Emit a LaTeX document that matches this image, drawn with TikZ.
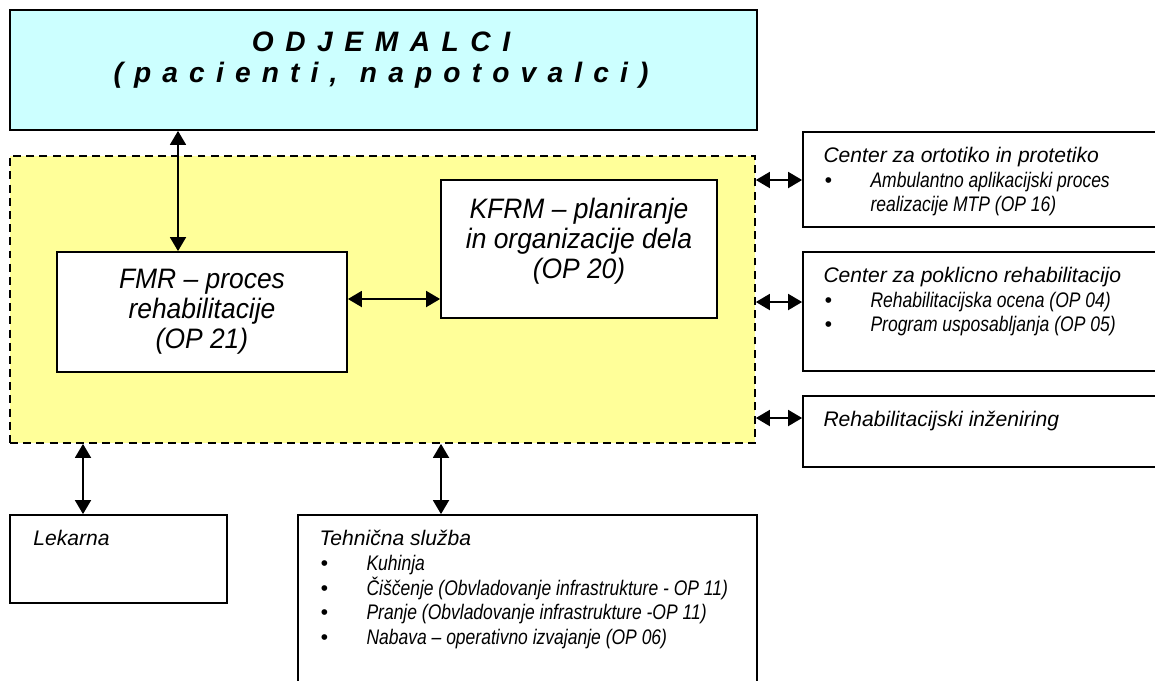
\documentclass[tikz,border=0pt]{standalone}
\usepackage{fontspec}
\setmainfont{Liberation Sans}
\newfontfamily\narrowfont[FakeStretch=0.83]{Liberation Sans}
\newfontfamily\midfont[FakeStretch=0.94]{Liberation Sans}
\usetikzlibrary{arrows.meta,calc}
\definecolor{odjcyan}{HTML}{CCFFFF}
\definecolor{zoneyellow}{HTML}{FFFF99}
\newdimen\pix \pix=0.02cm
% bullet item and its continuation line
\newcommand{\itm}[1]{\makebox[47\pix][l]{\hspace*{1\pix}\textbullet}{\narrowfont\itshape #1}}
\newcommand{\itmcont}[1]{\hspace*{47\pix}{\narrowfont\itshape #1}}

\begin{document}
\begin{tikzpicture}
  [x=0.02cm,y=-0.02cm,
   box/.style={draw=black,line width=1pt,fill=white,inner sep=0pt},
   txt/.style={anchor=north west,inner sep=0pt,align=left,font=\fontsize{12}{14}\selectfont\itshape},
   big/.style={align=center,inner sep=0pt,font=\midfont\itshape\fontsize{16}{17.1}\selectfont},
   arr/.style={{Triangle[length=8pt,width=9pt]}-{Triangle[length=8pt,width=9pt]},line width=1.4pt}]
  \clip (0,0) rectangle (1155,680);
  % customers on top, the yellow zone below
  \node (odj)[box,fill=odjcyan,minimum width=14.94cm,minimum height=2.4cm] at (383.5,70) {};
  \node (odjT)[align=center,inner sep=0pt,font=\bfseries\itshape\fontsize{16}{17.5}\selectfont] at (381,60)
    {{\addfontfeature{LetterSpace=13.5}O D J E M A L C I}\\{\addfontfeature{LetterSpace=12}( p a c i e n t i ,\ \ n a p o t o v a l c i )}};
  \node (zone)[box,fill=zoneyellow,dash pattern=on 4.5pt off 3pt,minimum width=14.9cm,minimum height=5.74cm] at (382.5,299.5) {};
  \node (fmr)[box,big,minimum width=5.8cm,minimum height=2.4cm] at (202,312)
    {FMR – proces\\rehabilitacije\\(OP 21)};
  \node (kfrm)[box,minimum width=5.52cm,minimum height=2.76cm] at (579,249) {};
  \node (kfrmT)[big] at (579,241) {KFRM – planiranje\\in organizacije dela\\(OP 20)};
  % boxes on the right
  \node (cop)[box,minimum width=7.34cm,minimum height=1.9cm] at (986.5,179.5) {};
  \node (cpr)[box,minimum width=7.34cm,minimum height=2.38cm] at (986.5,311.5) {};
  \node (rin)[box,minimum width=7.34cm,minimum height=1.42cm] at (986.5,431.5) {};
  \node (copT)[txt] at ($(cop.north west)+(21,16)$)
    {Center za ortotiko in protetiko\\\itm{Ambulantno aplikacijski proces}\\\itmcont{realizacije MTP (OP 16)}};
  \node (cprT)[txt] at ($(cpr.north west)+(21,16)$)
    {Center za poklicno rehabilitacijo\\\itm{Rehabilitacijska ocena (OP 04)}\\\itm{Program usposabljanja (OP 05)}};
  \node (rinT)[txt] at ($(rin.north west)+(21,16)$) {Rehabilitacijski inženiring};
  % boxes below
  \node (lek)[box,minimum width=4.34cm,minimum height=1.76cm] at (118.5,559) {};
  \node (teh)[box,minimum width=9.18cm,minimum height=3.7cm] at (527.5,607.5) {};
  \node (lekT)[txt] at ($(lek.north west)+(24,16)$) {Lekarna};
  \node (tehT)[txt] at ($(teh.north west)+(22,16)$)
    {Tehnična služba\\\itm{Kuhinja}\\\itm{Čiščenje (Obvladovanje infrastrukture - OP 11)}\\%
     \itm{Pranje (Obvladovanje infrastrukture -OP 11)}\\\itm{Nabava – operativno izvajanje (OP 06)}};
  \coordinate (c1) at (178,0);
  \coordinate (c2) at (83,0);
  \coordinate (c3) at (441,0);
  \coordinate (r0) at (0,299);
  \coordinate (r1) at (0,180);
  \coordinate (r2) at (0,302);
  \coordinate (r3) at (0,418);
  \foreach \from/\to in {odj.south -| c1/fmr.north -| c1,fmr.east |- r0/kfrm.west |- r0,
      zone.east |- r1/cop.west |- r1,zone.east |- r2/cpr.west |- r2,zone.east |- r3/rin.west |- r3,
      zone.south -| c2/lek.north -| c2,zone.south -| c3/teh.north -| c3}
    \draw[arr] (\from) -- (\to);
\end{tikzpicture}
\end{document}
